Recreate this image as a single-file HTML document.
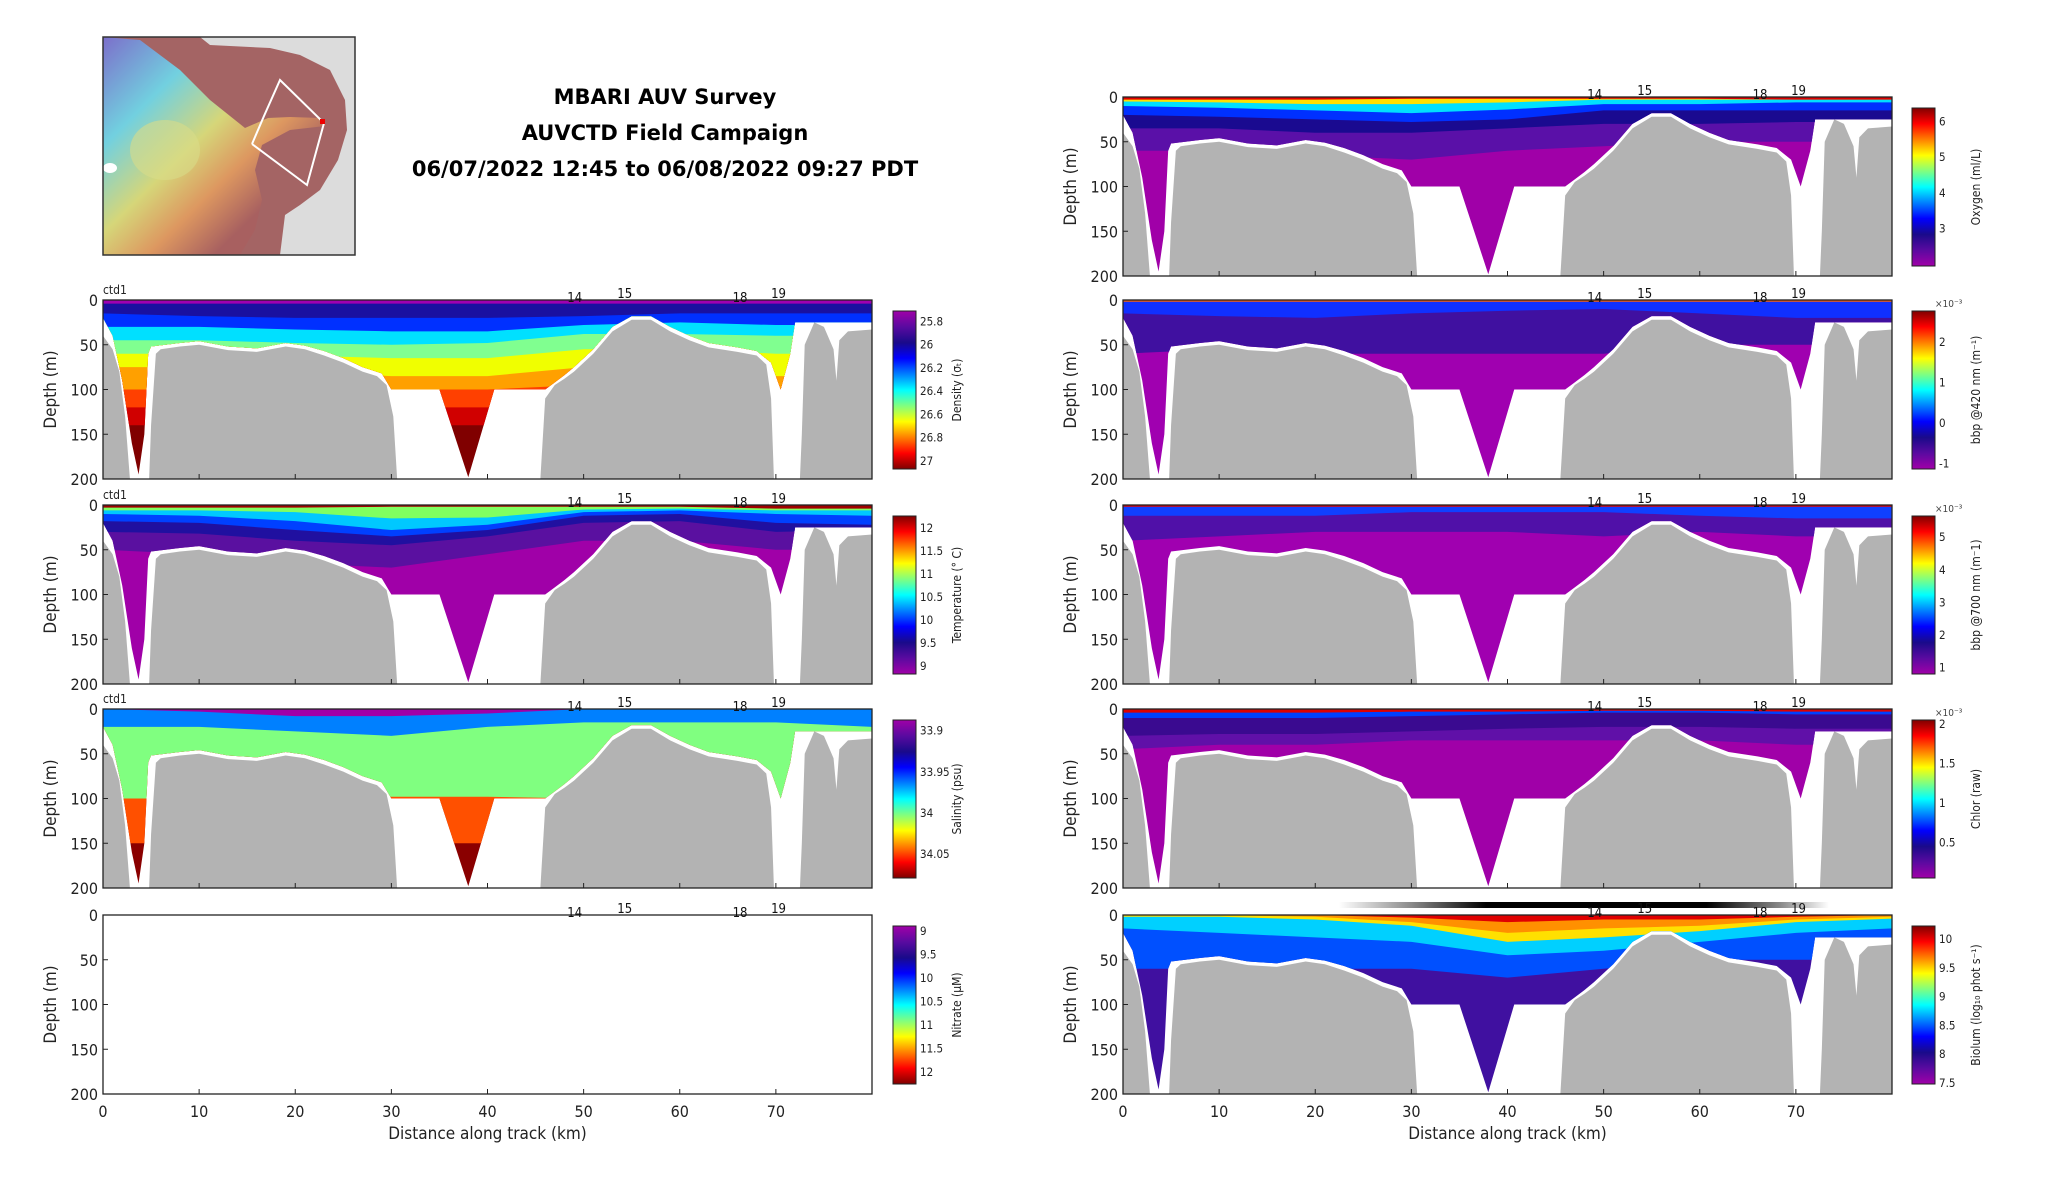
<!DOCTYPE html>
<html><head><meta charset="utf-8"><style>
html,body{margin:0;padding:0;background:#fff;}
svg text{font-family:"DejaVu Sans Condensed","Liberation Sans",sans-serif;}
</style></head><body>
<svg id="fig" xmlns="http://www.w3.org/2000/svg" width="2052" height="1188" viewBox="0 0 2052 1188">
<defs>
<linearGradient id="landg" x1="0" y1="0" x2="1" y2="1">
<stop offset="0" stop-color="#7a6fd0"/><stop offset="0.25" stop-color="#6fd6e6"/><stop offset="0.45" stop-color="#d8dc7a"/><stop offset="0.6" stop-color="#e09a60"/><stop offset="0.75" stop-color="#a86060"/></linearGradient>
<linearGradient id="barg" x1="0" x2="1"><stop offset="0" stop-color="#fff"/><stop offset="0.15" stop-color="#888"/><stop offset="0.3" stop-color="#000"/><stop offset="0.75" stop-color="#000"/><stop offset="0.9" stop-color="#888"/><stop offset="1" stop-color="#fff"/></linearGradient>
</defs>
<g id="map">
<rect x="103" y="37" width="252" height="218" fill="#dcdcdc"/>
<path d="M103 37 L200 37 L210 45 L270 48 L300 55 L330 70 L345 100 L347 130 L338 160 L320 190 L300 205 L285 215 L280 255 L103 255 Z" fill="#a46464"/>
<path d="M103 37 L140 40 L180 70 L210 100 L245 128 L268 118 L290 117 L320 118 L325 126 L290 130 L262 145 L255 170 L262 200 L255 230 L240 255 L103 255 Z" fill="url(#landg)" opacity="0.95"/>
<ellipse cx="165" cy="150" rx="35" ry="30" fill="#d8dc88" opacity="0.6"/>
<ellipse cx="110" cy="168" rx="7" ry="5" fill="#fff"/>
<polyline points="252,144 264,116 280,80 324,123 307,185 252,144" fill="none" stroke="#fff" stroke-width="2"/>
<rect x="320" y="119" width="5" height="5" fill="#e00"/>
<rect x="103" y="37" width="252" height="218" fill="none" stroke="#333" stroke-width="1.5"/>
</g>
<g font-weight="bold" font-size="21" text-anchor="middle" fill="#000">
<text x="665" y="104" style="font-family:'DejaVu Sans',sans-serif">MBARI AUV Survey</text>
<text x="665" y="140" style="font-family:'DejaVu Sans',sans-serif">AUVCTD Field Campaign</text>
<text x="665" y="176" style="font-family:'DejaVu Sans',sans-serif">06/07/2022 12:45 to 06/08/2022 09:27 PDT</text>
</g>
<rect x="1339" y="902" width="490" height="6" fill="url(#barg)"/>
<g id="panels"></g>
</svg>
<script>
// ---- shared data ----
const bandX = [0,10,20,30,40,50,60,70,80];
const bathyX = [0,1,1.7,2.3,2.8,4.8,5.0,5.5,6,8,10,13,16,19,21,23,25,27,28.5,29.5,30.2,30.6,31,45.2,45.5,46,47,48,49,51,53,55,57,59,61,63,66,68,69,69.5,69.8,72.5,72.7,73,74,75,76,76.3,76.6,77.5,80];
const bathyD = [40,55,80,130,200,200,140,60,55,52,50,56,58,52,55,62,70,80,85,95,130,200,260,260,200,110,95,88,80,60,35,22,22,35,45,53,58,62,72,110,200,200,150,50,25,30,55,90,45,35,33];
const dataX = [0,1,2,3,3.7,4.3,4.7,5,8,10,13,16,19,21,23,25,27,29,30,35,38,40.7,46,47,48,49,51,53,55,57,59,61,63,66,68,69.5,70.5,71.5,72,80];
const dataD = [20,40,90,160,195,150,60,52,48,46,52,54,48,51,57,65,75,82,100,100,198,100,100,92,84,75,55,30,18,18,30,40,48,53,57,70,100,60,25,25];
const xTicks = [0,10,20,30,40,50,60,70];
const yTicks = [0,50,100,150,200];
const stationLabels = ['14','15','18','19'];
const stationKm = [48.3,53.5,65.5,69.5];
const jet = ['#a000a8','#5a0aa0','#1a0a8a','#0000ff','#0080ff','#00ffff','#80ff80','#ffff00','#ff8000','#ff0000','#800000'];

const panelDefs = [
 {name:'density',x:103,y:300,label:'Density (σ\u209C)',ticks:['25.8','26','26.2','26.4','26.6','26.8','27'],lo:25.71,hi:27.07,hot:false,
  colors:['#a000b0','#1a10a0','#0030ff','#00e0ff','#80ff90','#f0ff00','#ffa000','#ff4000','#d00000','#800000']},
 {name:'temperature',x:103,y:505,label:'Temperature (° C)',ticks:['12','11.5','11','10.5','10','9.5','9'],lo:12.26,hi:8.83,hot:true,
  colors:['#a00000','#80ff60','#00c8ff','#0040ff','#2010a0','#5a10a0','#a000a8']},
 {name:'salinity',x:103,y:709,label:'Salinity (psu)',ticks:['33.9','33.95','34','34.05'],lo:33.887,hi:34.079,hot:false,
  colors:['#a000a8','#0080ff','#80ff80','#ff5000','#8a0000']},
 {name:'nitrate',x:103,y:915,label:'Nitrate (μM)',ticks:['9','9.5','10','10.5','11','11.5','12'],lo:8.89,hi:12.26,hot:false,colors:[],xaxis:true,nobathy:true},
 {name:'oxygen',x:1123,y:97,label:'Oxygen (ml/L)',ticks:['6','5','4','3'],lo:6.37,hi:1.96,hot:true,
  colors:['#e00000','#ffe000','#00e0ff','#0030ff','#1a0a90','#5a10a8','#a000a8']},
 {name:'bbp420',x:1123,y:300,label:'bbp @420 nm (m\u207B\u00B9)',ticks:['2','1','0','-1'],lo:2.77,hi:-1.13,hot:true,exp:true,
  colors:['#ff6000','#1030ff','#4010a0','#a000b0']},
 {name:'bbp700',x:1123,y:505,label:'bbp @700 nm (m\u207B1)',ticks:['5','4','3','2','1'],lo:5.65,hi:0.8,hot:true,exp:true,
  colors:['#e00000','#1040ff','#5010a8','#a000b0']},
 {name:'chlor',x:1123,y:709,label:'Chlor (raw)',ticks:['2','1.5','1','0.5'],lo:2.05,hi:0.05,hot:true,exp:true,
  colors:['#e00000','#0040ff','#3a0a90','#6010a8','#a000a8']},
 {name:'biolum',x:1123,y:915,label:'Biolum (log\u2081\u2080 phot s\u207B\u00B9)',ticks:['10','9.5','9','8.5','8','7.5'],lo:10.23,hi:7.48,hot:true,xaxis:true,
  colors:['#e00000','#ff9000','#ffe000','#00d0ff','#0050ff','#4010a0']}
];
const densityBands = [[4,4,4,4,4,4,4,4,4],[15,18,20,20,20,18,15,15,15],[30,30,33,35,35,28,25,28,28],[45,45,48,50,48,38,38,40,40],[60,60,62,65,65,55,55,60,60],[75,75,80,85,85,75,80,85,85],[100,100,100,100,100,95,100,110,110],[120,120,120,120,120,120,120,120,120],[140,140,140,140,140,140,140,140,140],[300,300,300,300,300,300,300,300,300]];
const temperatureBands = [[3,3,3,2,2,2,2,4,4],[6,6,8,15,14,5,4,6,6],[10,12,18,28,22,8,6,10,12],[18,20,28,35,28,12,10,20,22],[30,32,40,45,35,20,18,30,28],[50,55,65,70,55,40,40,50,50],[300,300,300,300,300,300,300,300,300]];
const salinityBands = [[0,3,8,8,5,0,0,0,0],[20,20,25,30,20,15,15,15,20],[100,100,100,98,98,100,100,100,100],[150,150,150,150,150,150,150,150,150],[300,300,300,300,300,300,300,300,300]];
const nitrateBands = [];
const oxygenBands = [[3,3,3,2,2,2,2,3,3],[5,6,8,8,6,3,3,3,3],[10,12,15,18,14,8,8,6,6],[20,22,25,28,25,15,15,15,15],[35,35,40,40,35,30,30,28,28],[60,60,65,70,60,55,50,50,50],[300,300,300,300,300,300,300,300,300]];
const bbp420Bands = [[2,2,2,2,2,2,2,2,2],[15,18,20,15,12,10,15,20,20],[60,55,60,60,60,60,50,50,50],[300,300,300,300,300,300,300,300,300]];
const bbp700Bands = [[2,2,2,2,2,2,2,2,2],[12,12,12,8,8,8,12,15,15],[40,35,30,30,30,35,30,35,35],[300,300,300,300,300,300,300,300,300]];
const chlorBands = [[4,4,4,3,3,2,2,3,3],[10,10,10,8,6,4,4,6,6],[30,28,28,25,22,20,20,22,22],[45,40,40,35,35,35,35,40,40],[300,300,300,300,300,300,300,300,300]];
const biolumBands = [[0,0,0,3,8,5,5,2,0],[0,0,2,8,20,15,12,5,2],[2,2,5,12,30,25,18,8,4],[15,20,25,30,45,40,30,20,15],[60,60,60,60,70,60,50,50,50],[300,300,300,300,300,300,300,300,300]];
const allBands = {density:densityBands,temperature:temperatureBands,salinity:salinityBands,nitrate:nitrateBands,oxygen:oxygenBands,bbp420:bbp420Bands,bbp700:bbp700Bands,chlor:chlorBands,biolum:biolumBands};

const NS='http://www.w3.org/2000/svg';
const W=769,H=179,XMAX=80,DMAX=200;
function mk(tag,attrs,parent){const e=document.createElementNS(NS,tag);for(const k in attrs)e.setAttribute(k,attrs[k]);parent.appendChild(e);return e;}
const root=document.getElementById('panels');
const defs=document.querySelector('defs');

['hot','cold'].forEach(function(kind){
  const g=mk('linearGradient',{id:'cb-'+kind,x1:0,y1:0,x2:0,y2:1},defs);
  jet.forEach(function(c,i){const t=i/(jet.length-1);mk('stop',{offset:t,'stop-color':kind==='hot'?jet[jet.length-1-i]:c},g);});
});

panelDefs.forEach(function(p,pi){
  const sx=function(km){return p.x+km/XMAX*W;};
  const sy=function(d){return p.y+d/DMAX*H;};
  const g=mk('g',{},root);
  
  
  const cid='clip'+pi;
  const cp=mk('clipPath',{id:cid},defs);
  mk('rect',{x:p.x,y:p.y,width:W,height:H},cp);
  const dcid='dclip'+pi;
  const dcp=mk('clipPath',{id:dcid},defs);
  let dpath='M'+sx(0)+' '+sy(0);
  dataX.forEach(function(x,i){dpath+=' L'+sx(x)+' '+sy(dataD[i]);});
  dpath+=' L'+sx(80)+' '+sy(0)+' Z';
  mk('path',{d:dpath},dcp);
  const field=mk('g',{'clip-path':'url(#'+dcid+')'},g);
  
  
  const bands=allBands[p.name];
  for(let b=bands.length-1;b>=0;b--){
    let d='M'+sx(0)+' '+sy(0);
    bandX.forEach(function(x,i){d+=' L'+sx(x)+' '+sy(bands[b][i]);});
    d+=' L'+sx(80)+' '+sy(0)+' Z';
    const band=mk('path',{d:d,fill:p.colors[b]},field);
    
    
  }
  if(!p.nobathy){
    const bg=mk('g',{'clip-path':'url(#'+cid+')'},g);
    let bp='M'+sx(0)+' '+sy(260);
    bathyX.forEach(function(x,i){bp+=' L'+sx(x)+' '+sy(bathyD[i]);});
    bp+=' L'+sx(80)+' '+sy(260)+' Z';
    const bathy=mk('path',{d:bp,fill:'#b3b3b3'},bg);
    
    
  }
  mk('rect',{x:p.x,y:p.y,width:W,height:H,fill:'none',stroke:'#222','stroke-width':1.3},g);
  yTicks.forEach(function(v){
    const t=mk('text',{x:p.x-5,y:sy(v)+6,'font-size':16,'text-anchor':'end',fill:'#222'},g);
    t.textContent=v;
    
    
    mk('line',{x1:p.x,x2:p.x+5,y1:sy(v),y2:sy(v),stroke:'#222'},g);
  });
  xTicks.forEach(function(v){
    mk('line',{x1:sx(v),x2:sx(v),y1:p.y+H,y2:p.y+H-5,stroke:'#222'},g);
    if(p.xaxis){
      const t=mk('text',{x:sx(v),y:p.y+H+23,'font-size':16,'text-anchor':'middle',fill:'#222'},g);
      t.textContent=v;
      
      
    }
  });
  if(p.xaxis){
    const t=mk('text',{x:p.x+W/2,y:p.y+H+45,'font-size':17,'text-anchor':'middle',fill:'#222'},g);
    t.textContent='Distance along track (km)';
    
    
  }
  const yl=mk('text',{x:0,y:0,'font-size':17,'text-anchor':'middle',fill:'#222',transform:'translate('+(p.x-47)+','+(p.y+H/2)+') rotate(-90)'},g);
  yl.textContent='Depth (m)';
  
  
  if(p.x<500 && p.name!=='nitrate'){
    const c=mk('text',{x:p.x,y:p.y-6,'font-size':12,fill:'#222'},g);
    c.textContent='ctd1';
    
    
  }
  stationLabels.forEach(function(s,i){
    const t=mk('text',{x:sx(stationKm[i]),y:p.y+(i%2===1?-2:2),'font-size':13,fill:'#111'},g);
    t.textContent=s;
    
    
  });
  const cx=p.x<500?893:1912, cy=p.y+11, ch=158;
  const cb=mk('g',{},g);
  
  
  mk('rect',{x:cx,y:cy,width:23,height:ch,fill:'url(#cb-'+(p.hot?'hot':'cold')+')',stroke:'#222','stroke-width':1},cb);
  p.ticks.forEach(function(tv){
    const v=parseFloat(tv);
    const yy=cy+(v-p.lo)/(p.hi-p.lo)*ch;
    const t=mk('text',{x:cx+27,y:yy+4,'font-size':11.5,fill:'#222'},cb);
    t.textContent=tv;
    
    
  });
  if(p.exp){
    const t=mk('text',{x:cx+23,y:cy-4,'font-size':10,fill:'#444'},cb);
    t.textContent='×10⁻³';
    
    
  }
  const cl=mk('text',{x:0,y:0,'font-size':12,'text-anchor':'middle',fill:'#222',transform:'translate('+(cx+68)+','+(cy+ch/2)+') rotate(-90)'},cb);
  cl.textContent=p.label;
  
  
});
</script>
</body></html>
